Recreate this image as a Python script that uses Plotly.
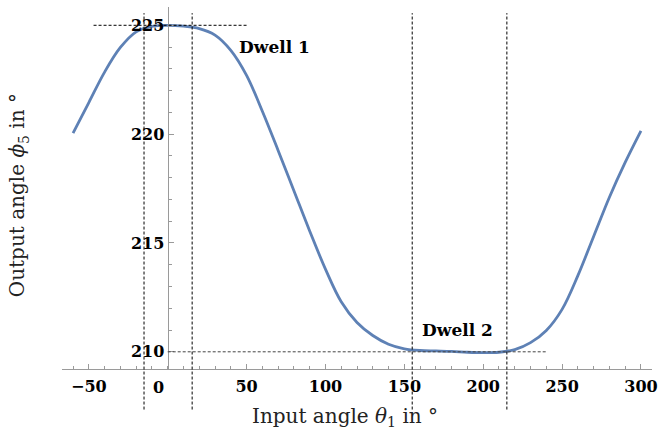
import plotly.graph_objects as go

# ---- data ----
theta = [-60, -50, -40, -30, -20, -10, 0, 10, 20, 30, 40, 50, 60, 70, 80, 90,
         100, 110, 120, 130, 140, 150, 160, 170, 180, 190, 200, 210, 220, 230,
         240, 250, 260, 270, 280, 290, 300]
phi = [220.05, 221.45, 222.85, 223.98, 224.70, 224.95, 225.00, 224.96, 224.85,
       224.55, 223.85, 222.70, 221.05, 219.25, 217.40, 215.55, 213.80, 212.30,
       211.35, 210.75, 210.35, 210.14, 210.06, 210.04, 210.02, 209.98, 209.96,
       209.98, 210.10, 210.42, 210.98, 211.95, 213.50, 215.30, 217.10, 218.70,
       220.15]

x_tickvals = [-50, 50, 100, 150, 200, 250, 300]
x_ticktext = ["\u221250", "50", "100", "150", "200", "250", "300"]
y_tickvals = [210, 215, 220, 225]
y_ticktext = ["210", "215", "220", "225"]

dwell_bounds = [-15, 15.5, 155, 215]          # vertical dashed lines
dwell1_level, dwell1_span = 225, [-47, 50]
dwell2_level, dwell2_span = 210, [0, 240]
dwell_labels = ["Dwell 1", "Dwell 2"]
dwell_label_pos = [(68, 224.0), (184, 211.0)]

x_range = [-67, 307]
y_range = [209.21, 225.84]

# ---- styling ----
blue = "#5E81B5"
gray = "#9a9a9a"
serif = "DejaVu Serif"

fig = go.Figure()
fig.add_trace(go.Scatter(x=theta, y=phi, mode="lines",
                         line=dict(color=blue, width=2.8, shape="spline", smoothing=1.0),
                         hoverinfo="skip", showlegend=False))

dash = "3px,2px"
for xv in dwell_bounds:
    fig.add_shape(type="line", xref="x", yref="paper", x0=xv, x1=xv,
                  y0=-0.112, y1=0.983, line=dict(color="black", width=1, dash=dash))
fig.add_shape(type="line", xref="x", yref="y", x0=dwell1_span[0], x1=dwell1_span[1],
              y0=dwell1_level, y1=dwell1_level, line=dict(color="black", width=1, dash=dash))
fig.add_shape(type="line", xref="x", yref="y", x0=dwell2_span[0], x1=dwell2_span[1],
              y0=dwell2_level, y1=dwell2_level, line=dict(color="#444", width=1, dash=dash))

for txt, (xa, ya) in zip(dwell_labels, dwell_label_pos):
    fig.add_annotation(x=xa, y=ya, text=txt, showarrow=False,
                       font=dict(family=serif, size=17, color="black", weight="bold"))

# origin label "0" (offset to the left of the y axis as in the reference)
fig.add_annotation(x=-6, xref="x", y=-0.05, yref="paper", text="0", showarrow=False,
                   xanchor="center", yanchor="middle",
                   font=dict(family=serif, size=16, color="black", weight="bold"))

# axis titles
fig.add_annotation(x=0.48, xref="paper", y=-0.132, yref="paper",
                   xanchor="center", yanchor="middle",
                   text="Input angle <i>θ</i><sub>1</sub> in °", showarrow=False,
                   font=dict(family=serif, size=20, color="#222"))
fig.add_annotation(x=-0.074, xref="paper", y=0.481, yref="paper", textangle=-90,
                   xanchor="center", yanchor="middle",
                   text="Output angle <i>ϕ</i><sub>5</sub> in °", showarrow=False,
                   font=dict(family=serif, size=20, color="#222"))

y0_pos = (0 - x_range[0]) / (x_range[1] - x_range[0])

fig.update_layout(
    width=665, height=438,
    margin=dict(l=62, r=13, t=7, b=69),
    paper_bgcolor="white", plot_bgcolor="white",
    xaxis=dict(range=x_range, showgrid=False, zeroline=False, showline=True,
               automargin=False,
               linecolor=gray, linewidth=1.2, ticks="inside", ticklen=5, tickcolor=gray,
               tickvals=x_tickvals, ticktext=x_ticktext, ticklabelstandoff=3,
               tickfont=dict(family=serif, size=16, color="black", weight="bold"),
               minor=dict(tick0=0, dtick=10, ticks="inside", ticklen=3, tickcolor=gray),
               anchor="y"),
    yaxis=dict(range=y_range, showgrid=False, zeroline=False, showline=True,
               automargin=False,
               linecolor=gray, linewidth=1.2, ticks="inside", ticklen=5, tickcolor=gray,
               tickvals=y_tickvals, ticktext=y_ticktext,
               tickfont=dict(family=serif, size=16, color="black", weight="bold"),
               minor=dict(tick0=0, dtick=1, ticks="inside", ticklen=3, tickcolor=gray),
               anchor="free", position=y0_pos),
)

fig.write_html("out.html", config={"displayModeBar": False},
               post_script="document.body.style.margin='0';document.body.style.padding='0';")
